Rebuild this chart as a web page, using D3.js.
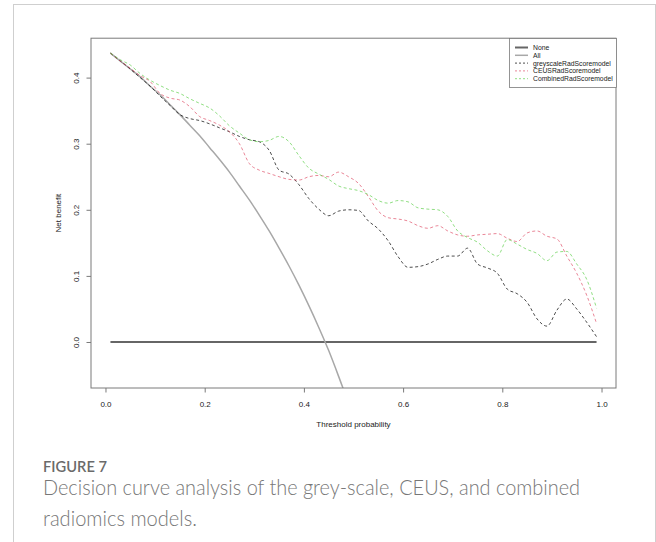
<!DOCTYPE html>
<html>
<head>
<meta charset="utf-8">
<script src="https://cdn.jsdelivr.net/npm/d3@7"></script>
<style>
  html, body { margin: 0; padding: 0; background: #fff; }
  svg { display: block; }
</style>
</head>
<body>
<svg id="chart" width="656" height="542"></svg>
<script>
// Threshold probabilities at which net benefit is reported
const thresholds = [0.01,0.03,0.05,0.07,0.09,0.11,0.13,0.15,0.17,0.19,0.21,0.23,0.25,0.27,0.29,0.31,0.33,0.35,0.37,0.39,0.41,0.43,0.45,0.47,0.49,0.51,0.53,0.55,0.57,0.59,0.61,0.63,0.65,0.67,0.69,0.71,0.73,0.75,0.77,0.79,0.81,0.83,0.85,0.87,0.89,0.91,0.93,0.95,0.97,0.99];

// Net benefit of each strategy
const noneValues = thresholds.map(() => 0);
const allValues = [0.437,0.425,0.413,0.401,0.387,0.374,0.359,0.344,0.328,0.312,0.294,0.276,0.257,0.236,0.215,0.192,0.168,0.142,0.115,0.086,0.055,0.022,-0.013,-0.052,-0.093,-0.137,-0.185,-0.238,-0.294,-0.356,-0.424,-0.498,-0.581,-0.672,-0.775,-0.889,-1.018,-1.165,-1.334,-1.54,-1.79,-2.08,-2.45,-2.95,-3.57,-4.45,-5.70,-7.55,-10.5,-15.0];
const greyscaleValues = [0.437,0.425,0.413,0.400,0.387,0.372,0.358,0.344,0.338,0.335,0.330,0.324,0.318,0.311,0.306,0.303,0.290,0.260,0.254,0.238,0.217,0.201,0.191,0.198,0.200,0.199,0.183,0.171,0.153,0.129,0.113,0.114,0.118,0.125,0.130,0.130,0.142,0.118,0.112,0.104,0.080,0.073,0.060,0.035,0.024,0.048,0.065,0.050,0.030,0.008];
const ceusValues = [0.437,0.425,0.414,0.403,0.394,0.376,0.369,0.366,0.356,0.341,0.335,0.328,0.318,0.300,0.270,0.260,0.255,0.250,0.246,0.245,0.250,0.252,0.250,0.257,0.250,0.240,0.220,0.198,0.188,0.186,0.183,0.176,0.172,0.176,0.168,0.162,0.160,0.162,0.163,0.164,0.157,0.152,0.165,0.168,0.160,0.156,0.130,0.104,0.071,0.028];
const combinedValues = [0.437,0.427,0.419,0.406,0.396,0.388,0.381,0.376,0.368,0.361,0.354,0.342,0.327,0.316,0.306,0.303,0.305,0.311,0.303,0.282,0.263,0.254,0.246,0.236,0.232,0.229,0.223,0.214,0.210,0.214,0.212,0.203,0.201,0.200,0.190,0.168,0.158,0.151,0.138,0.130,0.155,0.148,0.140,0.134,0.123,0.136,0.137,0.118,0.095,0.051];

const xTicks = [0, 0.2, 0.4, 0.6, 0.8, 1.0];
const yTicks = [0, 0.1, 0.2, 0.3, 0.4];

const seriesNames = ["None", "All", "greyscaleRadScoremodel", "CEUSRadScoremodel", "CombinedRadScoremodel"];
const seriesColors = ["#000000", "#a8a8a8", "#000000", "#DF536B", "#61D04F"];
const seriesWidths = [2, 1.5, 1, 1, 1];
const seriesOpacity = [0.6, 1, 0.7, 0.7, 0.7];
const seriesDashes = [null, null, "3,2.5", "3,2.5", "3,2.5"];
const seriesValues = [noneValues, allValues, greyscaleValues, ceusValues, combinedValues];

const svg = d3.select("#chart");

// Card frame around figure and caption
svg.append("rect")
  .attr("x", 13.5).attr("y", 4.5)
  .attr("width", 642).attr("height", 560)
  .attr("fill", "none").attr("stroke", "#cfcfcf").attr("stroke-width", 1);

const x = d3.scaleLinear().domain([-0.0292, 1.0292]).range([91, 616]);
const y = d3.scaleLinear().domain([-0.0696, 0.4596]).range([388, 38.2]);

const font = "'Liberation Sans', Arial, Helvetica, sans-serif";

svg.append("defs").append("clipPath").attr("id", "plotClip")
  .append("rect")
  .attr("x", x.range()[0]).attr("y", y.range()[1])
  .attr("width", x.range()[1] - x.range()[0])
  .attr("height", y.range()[0] - y.range()[1]);

// Curves
const line = d3.line()
  .x((d, i) => x(thresholds[i]))
  .y(d => y(d))
  .curve(d3.curveMonotoneX);

const curves = svg.append("g").attr("clip-path", "url(#plotClip)");
seriesValues.forEach((vals, k) => {
  curves.append("path")
    .datum(vals)
    .attr("d", line)
    .attr("fill", "none")
    .attr("stroke", seriesColors[k])
    .attr("stroke-width", seriesWidths[k])
    .attr("stroke-opacity", seriesOpacity[k])
    .attr("stroke-dasharray", seriesDashes[k]);
});

// Plot box
svg.append("rect")
  .attr("x", x.range()[0]).attr("y", y.range()[1])
  .attr("width", x.range()[1] - x.range()[0])
  .attr("height", y.range()[0] - y.range()[1])
  .attr("fill", "none").attr("stroke", "#7a7a7a").attr("stroke-width", 1);

// Axes
const xAxis = svg.append("g")
  .attr("transform", `translate(0,${y.range()[0]})`)
  .call(d3.axisBottom(x).tickValues(xTicks).tickFormat(d3.format(".1f")).tickSize(4.5).tickPadding(0));
xAxis.select(".domain").remove();
xAxis.selectAll(".tick line").attr("stroke", "#7a7a7a");
xAxis.selectAll(".tick text")
  .attr("y", 19).attr("dy", null)
  .attr("font-family", font).attr("font-size", 8).attr("fill", "#222");

const yAxis = svg.append("g")
  .attr("transform", `translate(${x.range()[0]},0)`)
  .call(d3.axisLeft(y).tickValues(yTicks).tickFormat(d3.format(".1f")).tickSize(4.5));
yAxis.select(".domain").remove();
yAxis.selectAll(".tick line").attr("stroke", "#7a7a7a");
yAxis.selectAll(".tick text")
  .attr("x", null).attr("dy", null)
  .attr("text-anchor", "middle")
  .attr("transform", "translate(-12,0) rotate(-90)")
  .attr("font-family", font).attr("font-size", 8).attr("fill", "#222");

// Axis titles
svg.append("text")
  .attr("x", (x.range()[0] + x.range()[1]) / 2).attr("y", 427)
  .attr("text-anchor", "middle")
  .attr("font-family", font).attr("font-size", 8).attr("fill", "#222")
  .text("Threshold probability");

svg.append("text")
  .attr("transform", `translate(61,${(y.range()[0] + y.range()[1]) / 2}) rotate(-90)`)
  .attr("text-anchor", "middle")
  .attr("font-family", font).attr("font-size", 8).attr("fill", "#222")
  .text("Net benefit");

// Legend
const legend = svg.append("g");
legend.append("rect")
  .attr("x", 509.5).attr("y", 38.5).attr("width", 107).attr("height", 49)
  .attr("fill", "#fff").attr("stroke", "#7a7a7a").attr("stroke-width", 0.8);
seriesNames.forEach((name, k) => {
  const ly = 47.5 + k * 7.8;
  legend.append("line")
    .attr("x1", 515).attr("x2", 528).attr("y1", ly).attr("y2", ly)
    .attr("stroke", seriesColors[k])
    .attr("stroke-width", seriesWidths[k])
    .attr("stroke-opacity", seriesOpacity[k])
    .attr("stroke-dasharray", seriesDashes[k] ? "2,2" : null);
  legend.append("text")
    .attr("x", 533).attr("y", ly + 2.4)
    .attr("font-family", font).attr("font-size", 6.8).attr("fill", "#222")
    .text(name);
});

// Caption
const capFont = "Lato, 'Open Sans', sans-serif";
svg.append("text")
  .attr("x", 43).attr("y", 472)
  .attr("font-family", capFont).attr("font-size", 15.5).attr("font-weight", 600)
  .attr("fill", "#6a6a6a")
  .attr("textLength", 64).attr("lengthAdjust", "spacingAndGlyphs")
  .text("FIGURE 7");
svg.append("text")
  .attr("x", 43).attr("y", 495)
  .attr("font-family", capFont).attr("font-size", 21).attr("font-weight", 300)
  .attr("fill", "#777")
  .attr("textLength", 537).attr("lengthAdjust", "spacingAndGlyphs")
  .text("Decision curve analysis of the grey-scale, CEUS, and combined");
svg.append("text")
  .attr("x", 43).attr("y", 526)
  .attr("font-family", capFont).attr("font-size", 21).attr("font-weight", 300)
  .attr("fill", "#777")
  .attr("textLength", 154).attr("lengthAdjust", "spacingAndGlyphs")
  .text("radiomics models.");
</script>
</body>
</html>
